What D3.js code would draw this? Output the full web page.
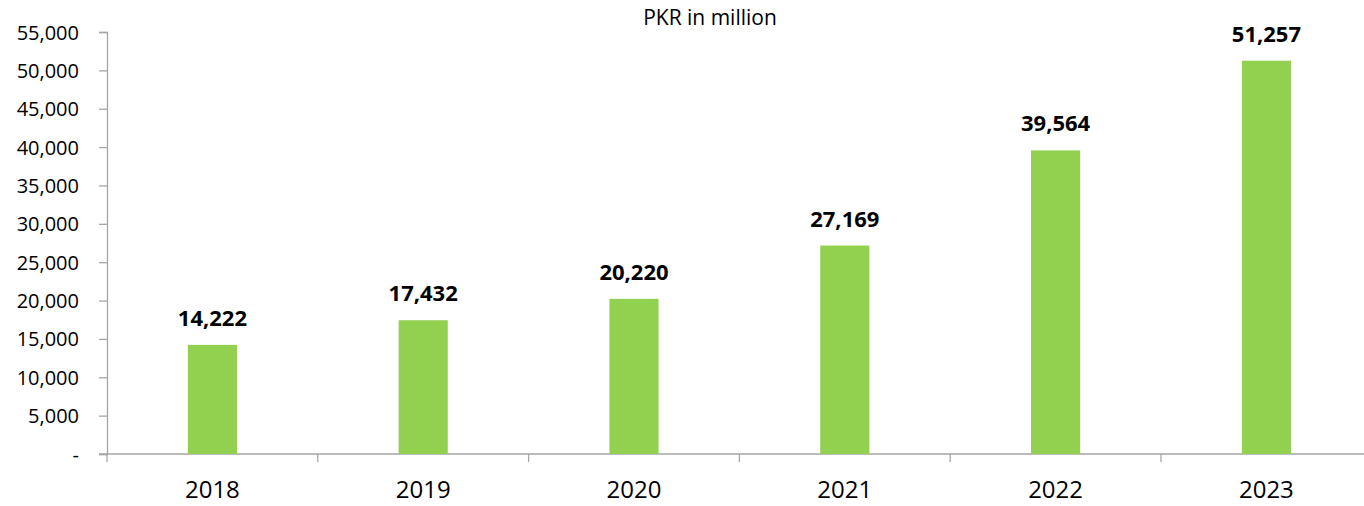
<!DOCTYPE html>
<html>
<head>
<meta charset="utf-8">
<script src="https://cdn.jsdelivr.net/npm/d3@7"></script>
<style>
	body { margin: 0; background: #fff; }
	svg text { font-family: "Open Sans", sans-serif; fill: #000; }
</style>
</head>
<body>
<div id="chart"></div>
<script>
// chart data
let years = ["2018", "2019", "2020", "2021", "2022", "2023"];
let values = [14222, 17432, 20220, 27169, 39564, 51257];
let yTicks = [0, 5000, 10000, 15000, 20000, 25000, 30000, 35000, 40000, 45000, 50000, 55000];
let title = "PKR in million";

let width = 1364, height = 506;
let margin = {top: 32, left: 107, bottom: 52};
let plotH = height - margin.top - margin.bottom;
let step = 210.8;

let svg = d3.select("#chart").append("svg")
	.attr("width", width)
	.attr("height", height);

// scales
let x = d3.scaleBand()
	.domain(years)
	.range([margin.left, margin.left + step * years.length])
	.paddingInner(0.767)
	.paddingOuter(0.767 / 2);

let y = d3.scaleLinear()
	.domain([0, 55000])
	.range([margin.top + plotH, margin.top]);

let fmt = d3.format(",");

// y axis
let yAxis = d3.axisLeft(y)
	.tickValues(yTicks)
	.tickSize(8)
	.tickPadding(20)
	.tickFormat(d => d === 0 ? "-" : fmt(d));

let gy = svg.append("g")
	.attr("transform", "translate(" + margin.left + ",0)")
	.call(yAxis);
gy.select(".domain").attr("stroke", "#a6a6a6").attr("stroke-width", 1.3);
gy.selectAll(".tick line").attr("stroke", "#a6a6a6").attr("stroke-width", 1.3);
gy.selectAll(".tick text").style("font-size", "20px").attr("dy", "0.35em");

// x axis: baseline plus tick marks between categories
let base = y(0);
svg.append("line")
	.attr("x1", margin.left - 8)
	.attr("x2", width)
	.attr("y1", base)
	.attr("y2", base)
	.attr("stroke", "#a6a6a6")
	.attr("stroke-width", 1.3);

svg.selectAll(".xtick")
	.data(d3.range(years.length + 1))
	.enter()
	.append("line")
	.attr("class", "xtick")
	.attr("x1", i => x.range()[0] + i * x.step())
	.attr("x2", i => x.range()[0] + i * x.step())
	.attr("y1", base)
	.attr("y2", base + 8)
	.attr("stroke", "#a6a6a6")
	.attr("stroke-width", 1.3);

svg.selectAll(".xlabel")
	.data(years)
	.enter()
	.append("text")
	.attr("class", "xlabel")
	.attr("x", d => x(d) + x.bandwidth() / 2)
	.attr("y", base + 44)
	.attr("text-anchor", "middle")
	.style("font-size", "24px")
	.text(d => d);

// bars
svg.selectAll(".bar")
	.data(values)
	.enter()
	.append("rect")
	.attr("class", "bar")
	.attr("x", (d, i) => x(years[i]))
	.attr("y", d => y(d))
	.attr("width", x.bandwidth())
	.attr("height", d => base - y(d))
	.attr("fill", "#92d050");

// value labels
svg.selectAll(".vlabel")
	.data(values)
	.enter()
	.append("text")
	.attr("class", "vlabel")
	.attr("x", (d, i) => x(years[i]) + x.bandwidth() / 2)
	.attr("y", d => y(d) - 19)
	.attr("text-anchor", "middle")
	.style("font-size", "22px")
	.style("font-weight", "bold")
	.text(d => fmt(d));

// title
svg.append("text")
	.attr("x", 710)
	.attr("y", 25)
	.attr("text-anchor", "middle")
	.style("font-size", "21px")
	.text(title);
</script>
</body>
</html>
